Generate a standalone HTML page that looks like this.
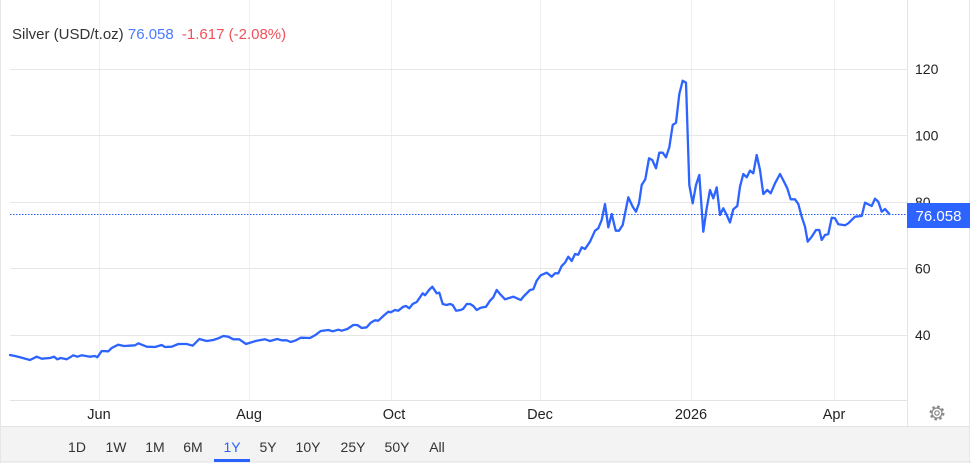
<!DOCTYPE html>
<html>
<head>
<meta charset="utf-8">
<style>
  html,body{margin:0;padding:0;background:#fff;}
  body{width:971px;height:463px;overflow:hidden;font-family:"Liberation Sans",Arial,sans-serif;}
  svg{display:block;}
</style>
</head>
<body>
<svg width="971" height="463" viewBox="0 0 971 463" xmlns="http://www.w3.org/2000/svg" font-family="Liberation Sans, Arial, sans-serif">
  <rect x="0" y="0" width="971" height="463" fill="#fff"/>
  <!-- toolbar band -->
  <rect x="0.5" y="426" width="969" height="36" fill="#f3f3f3"/>
  <line x1="0" y1="426.5" x2="970" y2="426.5" stroke="#e3e3e3" stroke-width="1"/>
  <!-- outer borders -->
  <line x1="0.5" y1="0" x2="0.5" y2="463" stroke="#e6e6e6" stroke-width="1"/>
  <line x1="969.5" y1="0" x2="969.5" y2="463" stroke="#e6e6e6" stroke-width="1"/>
  <line x1="0" y1="462" x2="971" y2="462" stroke="#e0e0e0" stroke-width="1"/>

  <!-- vertical gridlines -->
  <g stroke="#eceff3" stroke-width="1">
    <line x1="99.5" y1="0" x2="99.5" y2="400"/>
    <line x1="249.5" y1="0" x2="249.5" y2="400"/>
    <line x1="391.5" y1="0" x2="391.5" y2="400"/>
    <line x1="540.5" y1="0" x2="540.5" y2="400"/>
    <line x1="691.5" y1="0" x2="691.5" y2="400"/>
    <line x1="834.5" y1="0" x2="834.5" y2="400"/>
  </g>
  <!-- horizontal gridlines -->
  <g stroke="#e6e6e6" stroke-width="1">
    <line x1="10" y1="69.5" x2="907" y2="69.5"/>
    <line x1="10" y1="135.5" x2="907" y2="135.5"/>
    <line x1="10" y1="202.5" x2="907" y2="202.5"/>
    <line x1="10" y1="268.5" x2="907" y2="268.5"/>
    <line x1="10" y1="335.5" x2="907" y2="335.5"/>
  </g>
  <!-- axis lines -->
  <line x1="10" y1="400.5" x2="907" y2="400.5" stroke="#e3e3e3" stroke-width="1"/>
  <line x1="907.5" y1="0" x2="907.5" y2="426" stroke="#e3e3e3" stroke-width="1"/>

  <!-- header -->
  <text x="12" y="39" font-size="15" fill="#333">Silver (USD/t.oz) <tspan fill="#4a7bff">76.058</tspan>  <tspan fill="#f0505a" dx="4">-1.617 (-2.08%)</tspan></text>

  <!-- y labels -->
  <g font-size="14" fill="#222">
    <text x="915" y="74">120</text>
    <text x="915" y="140.5">100</text>
    <text x="915" y="207">80</text>
    <text x="915" y="273.5">60</text>
    <text x="915" y="340">40</text>
  </g>

  <!-- x labels -->
  <g font-size="14.5" fill="#222" text-anchor="middle">
    <text x="99" y="419">Jun</text>
    <text x="249" y="419">Aug</text>
    <text x="394" y="419">Oct</text>
    <text x="540" y="419">Dec</text>
    <text x="691" y="419">2026</text>
    <text x="834" y="419">Apr</text>
  </g>

  <!-- dotted last price line -->
  <line x1="10" y1="214.5" x2="907" y2="214.5" stroke="#2962ff" stroke-width="1" stroke-dasharray="1.5,1.5"/>

  <!-- series -->
  <polyline fill="none" stroke="#2d63ff" stroke-width="2.3" stroke-linejoin="round" stroke-linecap="round"
    points="10,355 15,356 20,357.3 30,360 36.7,356.7 41.7,358.7 50,358 54,356.7 57.3,359.3 60.7,358 66.7,359.3 73.3,355.3 77.3,356.7 81.7,355.3 90,356.7 95,356 97.3,357.3 101.7,351 108.3,351.3 111.7,348 118.3,344.7 124,346 135,345.3 138.3,343.3 146.7,346.7 155,347 161.7,345 165,347 171.7,346.7 178.3,344 186.7,344 192.7,345.7 199.3,339 206.7,341 213.3,340 218.3,338.3 223.3,336 228.3,336.7 233.3,339.3 239.3,339.3 246,344 256.7,340.7 265,339.3 270,341 277.3,339 281.7,340.3 286.7,340.3 290.7,342 296,340.3 300.7,337.7 310,338 315,335.3 320.7,331 328.3,330 332.7,331.3 338.3,329.7 341.7,330.7 347.3,329 353.3,325 357.3,325 361.7,328 366.7,327.3 370.7,322.7 375,320.3 378.3,320.7 383.3,316 388.3,311.7 390.7,312.3 395,310 398.3,310.7 403.3,306.7 406,306 409.3,308.3 412.7,304 416.7,302 419.3,298.3 422.7,293.3 425,295.3 429,290 432.3,286.7 436.7,293.3 439.3,292.7 442.7,304 446.7,305 450,304 452.7,305 456,310.7 460.7,310 463.3,308.7 466.7,304 470,304 473.3,306 476.7,310 480.7,307.7 486,306.7 490,300.7 493.3,297.3 496.7,290 500,294 505,299.3 513.3,296.7 520.7,300 524,296 530,290 533.3,289.3 536.7,280.7 540.7,275.3 546.7,272.7 551.7,276.7 555,273.3 558.3,273.3 561.7,266 565,262.7 568.3,256.7 571.7,261 575,254 578.3,254.7 581.7,247.3 585,249 590,241.7 595,230.7 598.3,228.3 601.7,220 605,204 608.3,227.3 611.7,214 615.7,230.7 619,230.7 622.7,225 628.3,197.3 632.7,206.7 636,211.7 639,203.3 641.7,185 645.3,179.3 649,158.3 652.3,160 656,168.3 659.3,152.7 662.7,152.7 666,157.3 669.3,147.3 672.7,125 676,122.7 679.3,94 682.7,80.7 686,82.7 689.3,185 692.7,203.3 696,185 699.3,175 703.3,231.7 706.7,208.3 710,190 713.3,198.3 716.7,187.3 720,215 723.3,208.3 726.7,215 730,222.5 733.3,209.3 737.3,206 740,186.7 743.3,174 746.7,177.3 750,170.7 753.3,173.3 756.7,155 760,170 763.3,194 767.3,190 770.7,193.3 775,183.3 780,174 784,181.7 787.3,188.3 790.7,199.3 795,199.3 798.3,204 801.7,216.7 805,226.7 807.7,241.7 811.7,236.7 816,230 819.3,230 821.7,240 825,235 828.3,234 831.7,217.7 835,218.3 838.3,224.3 845,225.3 848.3,223.3 855,216.7 861.7,216 865,202.7 871.7,206 875,198.7 878.3,201.7 881.7,211.7 885,209 889.3,214"/>

  <!-- last price label -->
  <rect x="907" y="203" width="63" height="25" fill="#2d63ff"/>
  <text x="938.5" y="221" font-size="15" fill="#fff" text-anchor="middle">76.058</text>

  <!-- gear icon -->
  <g transform="translate(937,413)">
    <circle r="6" fill="none" stroke="#8a8a8a" stroke-width="3" stroke-dasharray="2.4,2.3"/>
    <circle r="5" fill="none" stroke="#8a8a8a" stroke-width="1.3"/>
    <circle r="2.2" fill="none" stroke="#8a8a8a" stroke-width="1.2"/>
  </g>

  <!-- range buttons -->
  <g font-size="14" fill="#333" text-anchor="middle">
    <text x="77" y="452">1D</text>
    <text x="116" y="452">1W</text>
    <text x="155" y="452">1M</text>
    <text x="193" y="452">6M</text>
    <text x="232" y="452" fill="#2962ff">1Y</text>
    <text x="268" y="452">5Y</text>
    <text x="308" y="452">10Y</text>
    <text x="353" y="452">25Y</text>
    <text x="397" y="452">50Y</text>
    <text x="437" y="452">All</text>
  </g>
  <rect x="214" y="459" width="36" height="3" fill="#2962ff"/>
</svg>
</body>
</html>
